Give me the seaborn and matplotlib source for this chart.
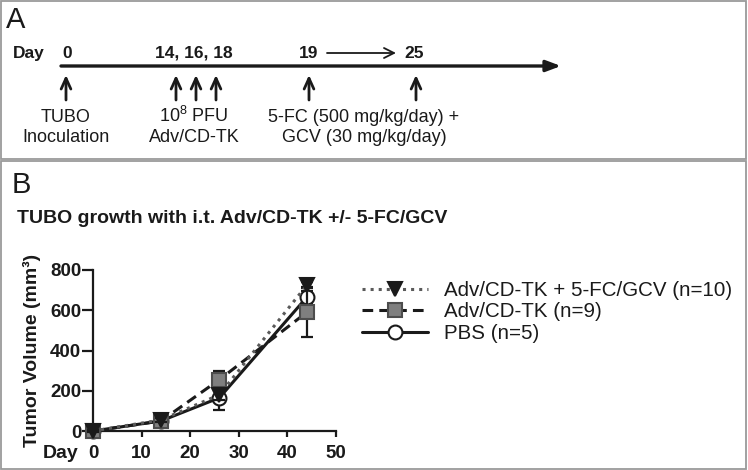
import pandas as pd
import matplotlib.pyplot as plt
import seaborn as sns
from matplotlib.patches import Rectangle

# ---- data ----
days = [0, 14, 26, 44]
groups = ["Adv/CD-TK + 5-FC/GCV (n=10)", "Adv/CD-TK (n=9)", "PBS (n=5)"]
vol_combo = [0, 55, 180, 725]
sem_combo = [3, 8, 25, 15]
vol_adv = [0, 50, 255, 590]
sem_adv = [3, 8, 45, 125]
vol_pbs = [0, 50, 165, 665]
sem_pbs = [3, 8, 60, 30]

# panel A schedule
sched_days = ["0", "14, 16, 18", "19", "25"]
sched_top = ["TUBO", "$10^8$ PFU", "5-FC (500 mg/kg/day) +"]
sched_bottom = ["Inoculation", "Adv/CD-TK", "GCV (30 mg/kg/day)"]

df = pd.DataFrame({
    "day": days * 3,
    "volume": vol_combo + vol_adv + vol_pbs,
    "sem": sem_combo + sem_adv + sem_pbs,
    "group": [g for g in groups for _ in days],
})

sns.set_style("ticks")
plt.rcParams["font.family"] = ["Liberation Sans", "DejaVu Sans"]
plt.rcParams["mathtext.default"] = "regular"
dark = "#1a1a1a"

fig = plt.figure(figsize=(7.48, 4.70), dpi=100)

# background axes in pixel units for panel frames and the schedule
bg = fig.add_axes([0, 0, 1, 1])
bg.set_xlim(0, 748)
bg.set_ylim(470, 0)
bg.axis("off")
bg.add_patch(Rectangle((1, 1), 745.5, 158, fill=False, ec="#9a9a9a", lw=1.3))
bg.add_patch(Rectangle((1, 161), 745.5, 307.5, fill=False, ec="#9a9a9a", lw=1.3))

bg.text(6, 28, "A", fontsize=21, color=dark, va="baseline")
bg.text(12, 193, "B", fontsize=21, color=dark, va="baseline")

# timeline
bg.annotate("", xy=(561, 66), xytext=(61, 66),
            arrowprops=dict(arrowstyle="-|>,head_length=0.8,head_width=0.3",
                            lw=2.4, color=dark, mutation_scale=11,
                            shrinkA=0, shrinkB=0))
bg.text(13, 58, "Day", fontsize=12.5, fontweight="bold", color=dark, va="baseline")
for lab, x in zip(sched_days, [67, 194, 309, 414]):
    bg.text(x, 58, lab, fontsize=12.5, fontweight="bold", color=dark,
            ha="center", va="baseline")
bg.annotate("", xy=(396, 53), xytext=(327, 53),
            arrowprops=dict(arrowstyle="->,head_length=0.6,head_width=0.3",
                            lw=1.3, color=dark, mutation_scale=12,
                            shrinkA=0, shrinkB=0))
for x in [66, 176, 196, 216, 309, 416]:
    bg.annotate("", xy=(x, 75), xytext=(x, 100),
                arrowprops=dict(arrowstyle="->,head_length=0.55,head_width=0.25",
                                lw=2, color=dark, mutation_scale=14,
                                shrinkA=0, shrinkB=0))
for t, b, x in zip(sched_top, sched_bottom, [66, 194, 364]):
    bg.text(x, 122, t, fontsize=13, color=dark, ha="center", va="baseline")
    bg.text(x, 142, b, fontsize=13, color=dark, ha="center", va="baseline")

bg.text(17, 223, "TUBO growth with i.t. Adv/CD-TK +/- 5-FC/GCV", fontsize=14,
        fontweight="bold", color=dark, va="baseline")

# ---- panel B plot ----
ax = fig.add_axes([93 / 748, 39 / 470, 243 / 748, 161 / 470])
ax.patch.set_alpha(0)

styles = {
    groups[2]: dict(marker="o", ms=10, mfc="white", mec=dark, ls="-", lc=dark, z=3),
    groups[1]: dict(marker="s", ms=10, mfc="#7f7f7f", mec="#4d4d4d", ls="--", lc=dark, z=4),
    groups[0]: dict(marker="v", ms=10.5, mfc=dark, mec=dark, ls=":", lc="#5a5a5a", z=5),
}
for g in [groups[2], groups[1], groups[0]]:
    st = styles[g]
    sub = df[df["group"] == g]
    ax.errorbar(sub["day"], sub["volume"], yerr=sub["sem"], fmt="none",
                ecolor=dark, elinewidth=1.6, capsize=4.5, capthick=1.6,
                zorder=st["z"] - 0.5, clip_on=False)
    kw = dict(dashes=(3.5, 2)) if st["ls"] == "--" else dict(linestyle=st["ls"])
    sns.lineplot(data=sub, x="day", y="volume", ax=ax, label=g, errorbar=None,
                 color=st["lc"], linewidth=2.2, marker=st["marker"],
                 markersize=st["ms"], markerfacecolor=st["mfc"],
                 markeredgecolor=st["mec"], markeredgewidth=1.5,
                 zorder=st["z"], clip_on=False, **kw)

ax.set_xlim(0, 50)
ax.set_ylim(0, 800)
ax.set_xticks([0, 10, 20, 30, 40, 50])
ax.set_yticks([0, 200, 400, 600, 800])
sns.despine(ax=ax)
for s in ["left", "bottom"]:
    ax.spines[s].set_linewidth(1.6)
    ax.spines[s].set_color(dark)
ax.tick_params(axis="y", length=8, width=1.6, pad=0.5, labelsize=13.5,
               color=dark, labelcolor=dark)
ax.tick_params(axis="x", length=4.5, width=1.6, pad=5.5, labelsize=13.5,
               color=dark, labelcolor=dark)
for lbl in ax.get_xticklabels() + ax.get_yticklabels():
    lbl.set_fontweight("bold")

ax.set_ylabel("Tumor Volume (mm³)", fontsize=14, fontweight="bold", color=dark)
ax.yaxis.set_label_coords(-0.214, 0.5)
ax.set_xlabel("Day", fontsize=14, fontweight="bold", color=dark)
ax.xaxis.label.set_va("baseline")
ax.xaxis.set_label_coords(-0.135, -0.168)

handles, labels = ax.get_legend_handles_labels()
hmap = dict(zip(labels, handles))
ax.legend([hmap[g] for g in groups], groups, loc="upper left",
          bbox_to_anchor=(362 / 748, 1 - 281 / 470), bbox_transform=fig.transFigure,
          frameon=False, fontsize=14.8, handlelength=3.2, handletextpad=0.8,
          labelspacing=0.12, borderpad=0, borderaxespad=0, labelcolor=dark)

fig.savefig("out.png", dpi=100)
